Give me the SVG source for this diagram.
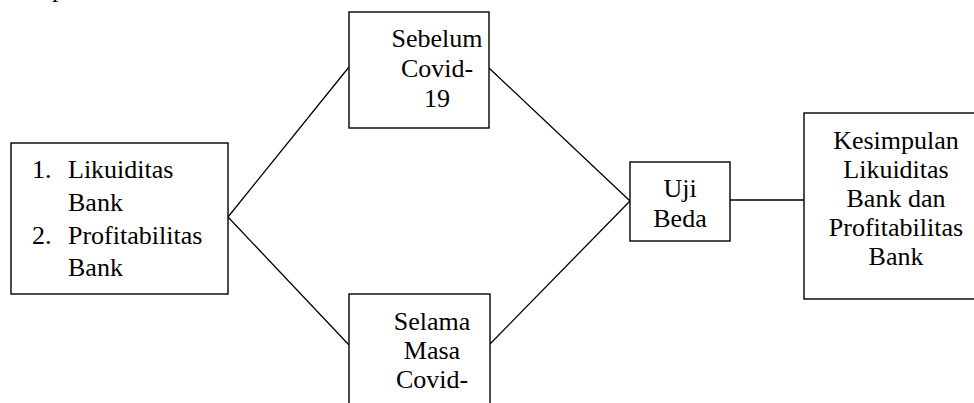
<svg xmlns="http://www.w3.org/2000/svg" width="974" height="403" viewBox="0 0 974 403" font-family="'Liberation Serif', 'Times New Roman', 'DejaVu Serif', serif" font-size="26">
<style>
.box{fill:#fff;stroke:#000;stroke-width:1.4}
.ln{stroke:#000;stroke-width:1.3;fill:none}
.t{font-family:'Liberation Serif','Times New Roman','DejaVu Serif',serif;font-size:26px;fill:#000}
.c{text-anchor:middle}
</style>
<rect width="974" height="403" fill="#fff"/>
<text class="t" x="52" y="-3">p</text>
<g id="connectors">
<line class="ln" x1="228" y1="217" x2="349" y2="67"/>
<line class="ln" x1="228" y1="217" x2="349" y2="345"/>
<line class="ln" x1="489" y1="68" x2="630" y2="201"/>
<line class="ln" x1="490" y1="344" x2="630" y2="201"/>
<line class="ln" x1="730" y1="200" x2="804" y2="200"/>
</g>
<g id="node-variabel">
<rect class="box" x="11" y="143" width="217" height="151"/>
<text class="t" x="32" y="178">1.</text><text class="t" x="68" y="178">Likuiditas</text>
<text class="t" x="68" y="211">Bank</text>
<text class="t" x="32" y="244">2.</text><text class="t" x="68" y="244">Profitabilitas</text>
<text class="t" x="68" y="276">Bank</text>
</g>
<g id="node-sebelum">
<rect class="box" x="349" y="12" width="140" height="116"/>
<text class="t c" x="437" y="47">Sebelum</text>
<text class="t c" x="437" y="77">Covid-</text>
<text class="t c" x="437" y="107">19</text>
</g>
<g id="node-selama">
<rect class="box" x="349" y="294" width="141" height="120"/>
<text class="t c" x="432" y="330">Selama</text>
<text class="t c" x="432" y="359">Masa</text>
<text class="t c" x="432" y="388">Covid-</text>
</g>
<g id="node-uji">
<rect class="box" x="630" y="162" width="100" height="79"/>
<text class="t c" x="680" y="197">Uji</text>
<text class="t c" x="680" y="227">Beda</text>
</g>
<g id="node-kesimpulan">
<rect class="box" x="804" y="113" width="172" height="186"/>
<text class="t c" x="896" y="149">Kesimpulan</text>
<text class="t c" x="896" y="178">Likuiditas</text>
<text class="t c" x="896" y="207">Bank dan</text>
<text class="t c" x="896" y="236">Profitabilitas</text>
<text class="t c" x="896" y="265">Bank</text>
</g>
</svg>
